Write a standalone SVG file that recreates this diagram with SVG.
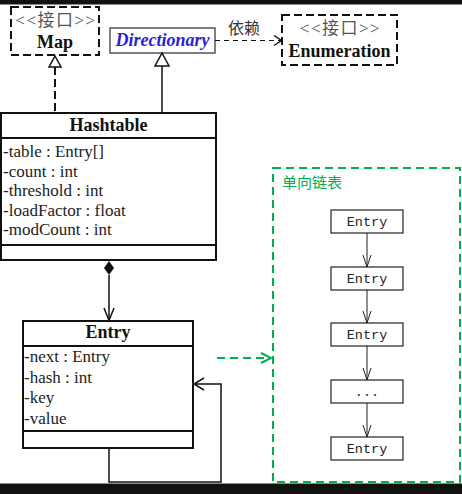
<svg xmlns="http://www.w3.org/2000/svg" width="462" height="494" viewBox="0 0 462 494">
<style>
.bg{fill:#fff}
.band{fill:#111}
.cls{fill:#fff;stroke:#111;stroke-width:2}
.iface{fill:#fff;stroke:#111;stroke-width:2;stroke-dasharray:8 4}
.sep{stroke:#111;stroke-width:2}
.title{font-family:"Liberation Serif",serif;font-weight:bold;font-size:18px;fill:#111;text-anchor:middle}
.stereo{font-family:"Liberation Serif","Noto Sans CJK SC",serif;font-size:17px;letter-spacing:1.5px;fill:#555;text-anchor:middle}
.attr{font-family:"Liberation Serif",serif;font-size:17px;fill:#222}
.line{fill:none;stroke:#111;stroke-width:1.5}
.dash{fill:none;stroke:#111;stroke-width:1.2;stroke-dasharray:5 4}
.realize{fill:none;stroke:#111;stroke-width:2;stroke-dasharray:8 4}
.green{fill:none;stroke:#00b050;stroke-width:2;stroke-dasharray:8 5}
.gline{fill:none;stroke:#00b050;stroke-width:2}
.node{fill:#fff;stroke:#222;stroke-width:1.2}
.mono{font-family:"Liberation Mono",monospace;font-size:13.5px;fill:#222;text-anchor:middle}
</style>
<rect class="bg" x="0" y="0" width="462" height="494"/>
<rect class="band" x="0" y="0" width="462" height="4.5"/>
<rect class="band" x="0" y="483.5" width="462" height="10.5"/>

<g id="map">
<rect class="iface" x="11" y="7" width="88" height="48"/>
<text class="stereo" x="56" y="26">&lt;&lt;接口&gt;&gt;</text>
<text class="title" x="55" y="48">Map</text>
</g>

<g id="directionary">
<rect x="110" y="28" width="105" height="25" fill="#fff" stroke="#555" stroke-width="1.5"/>
<text x="162.5" y="46" style="font-family:'Liberation Serif',serif;font-weight:bold;font-style:italic;font-size:18px;fill:#2a1fd6" text-anchor="middle">Directionary</text>
</g>

<g id="enumeration">
<rect class="iface" x="282" y="15" width="115" height="50"/>
<text class="stereo" x="340.5" y="34">&lt;&lt;接口&gt;&gt;</text>
<text class="title" x="339.5" y="57">Enumeration</text>
</g>

<g id="hashtable">
<rect class="cls" x="1" y="113" width="215" height="147"/>
<line class="sep" x1="1" y1="138" x2="216" y2="138"/>
<line class="sep" x1="1" y1="245" x2="216" y2="245"/>
<text class="title" x="108.5" y="131">Hashtable</text>
<text class="attr" x="3" y="157">-table : Entry[]</text>
<text class="attr" x="3" y="176.5">-count : int</text>
<text class="attr" x="3" y="196">-threshold : int</text>
<text class="attr" x="3" y="215.5">-loadFactor : float</text>
<text class="attr" x="3" y="235">-modCount : int</text>
</g>

<g id="entry">
<rect class="cls" x="23" y="321" width="170" height="127"/>
<line class="sep" x1="23" y1="346" x2="193" y2="346"/>
<line class="sep" x1="23" y1="431" x2="193" y2="431"/>
<text class="title" x="108" y="338">Entry</text>
<text class="attr" x="24" y="362">-next : Entry</text>
<text class="attr" x="24" y="383">-hash : int</text>
<text class="attr" x="24" y="403">-key</text>
<text class="attr" x="24" y="424">-value</text>
</g>

<g id="linked-list">
<rect class="green" x="273" y="168" width="187" height="314"/>
<text x="282" y="188" style="font-family:'Noto Sans CJK SC',sans-serif;font-size:15px;fill:#00b050">单向链表</text>
</g>
<g id="e1"><rect class="node" x="331" y="210" width="72" height="23"/><text class="mono" x="367" y="226">Entry</text></g>
<g id="e2"><rect class="node" x="331" y="267" width="72" height="23"/><text class="mono" x="367" y="283">Entry</text></g>
<g id="e3"><rect class="node" x="331" y="323" width="72" height="23"/><text class="mono" x="367" y="339">Entry</text></g>
<g id="e4"><rect class="node" x="331" y="380" width="72" height="23"/><text class="mono" x="367" y="396">...</text></g>
<g id="e5"><rect class="node" x="331" y="437" width="72" height="23"/><text class="mono" x="367" y="453">Entry</text></g>

<g id="connectors">
<line class="realize" x1="55" y1="67" x2="55" y2="113"/>
<polygon points="55,56 49,67 61,67" fill="#fff" stroke="#111" stroke-width="1.5"/>
<line class="line" x1="162" y1="66" x2="162" y2="113"/>
<polygon points="162,53 155,66 169,66" fill="#fff" stroke="#111" stroke-width="1.5"/>
<line class="dash" x1="215" y1="40.5" x2="281" y2="40.5"/>
<polyline class="line" points="274,35.5 281.5,40.5 274,45.5"/>
<text x="244" y="34" style="font-family:'Noto Sans CJK SC',sans-serif;font-size:16px;fill:#333" text-anchor="middle">依赖</text>
<polygon points="109,261 114,268 109,275 104,268" fill="#111"/>
<line class="line" x1="109" y1="275" x2="109" y2="320"/>
<polyline class="line" points="104,308 109,320.5 114,308"/>
<polyline class="line" points="109,448 109,482 221,482 221,384 194,384"/>
<polyline class="line" points="204,378 194,384 204,390"/>
<line class="green" x1="217" y1="358" x2="270" y2="358"/>
<polyline class="gline" points="261,353 271,358 261,363"/>
<g stroke="#222" stroke-width="1" fill="none">
<line x1="367" y1="233" x2="367" y2="267"/><polyline points="363,255 367,267 371,255"/>
<line x1="367" y1="290" x2="367" y2="323"/><polyline points="363,311 367,323 371,311"/>
<line x1="367" y1="346" x2="367" y2="380"/><polyline points="363,368 367,380 371,368"/>
<line x1="367" y1="403" x2="367" y2="437"/><polyline points="363,425 367,437 371,425"/>
</g>
</g>
</svg>
